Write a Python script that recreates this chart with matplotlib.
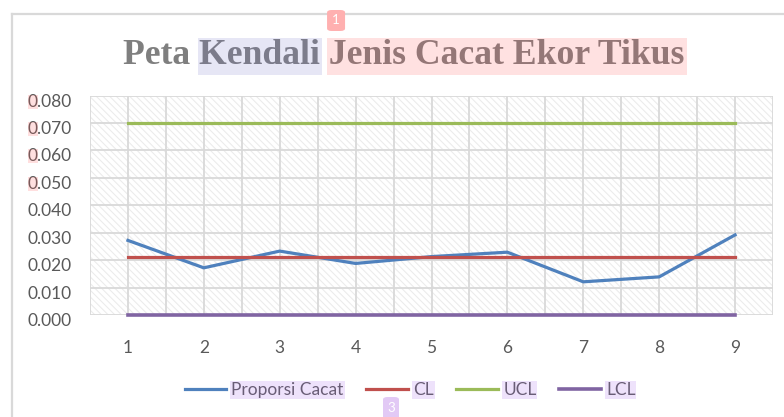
import matplotlib
matplotlib.use('Agg')
import matplotlib.pyplot as plt
from matplotlib.patches import Rectangle, FancyBboxPatch
from matplotlib.lines import Line2D
import matplotlib.transforms as mtrans

# ---------------- data ----------------
samples = [1, 2, 3, 4, 5, 6, 7, 8, 9]
proporsi_cacat = [0.0272, 0.0172, 0.0233, 0.0188, 0.0213, 0.0229, 0.0121, 0.0139, 0.0292]
cl_value = 0.0210
ucl_value = 0.0700
lcl_value = 0.0000
y_ticks = [0.000, 0.010, 0.020, 0.030, 0.040, 0.050, 0.060, 0.070, 0.080]
title_text = 'Peta Kendali Jenis Cacat Ekor Tikus'
legend_labels = ['Proporsi Cacat', 'CL', 'UCL', 'LCL']

# ---------------- style ----------------
W, H = 784, 417
C_BLUE = '#4F81BD'
C_RED = '#C0504D'
C_GREEN = '#9BBB59'
C_PURPLE = '#8064A2'
TXT = '#595959'
GRID = '#d9d9d9'
SANS = ['Lato', 'DejaVu Sans']
FS = 12.5

plt.rcParams['hatch.color'] = '#ececec'
plt.rcParams['hatch.linewidth'] = 0.8

fig = plt.figure(figsize=(W / 100, H / 100), dpi=100)
fig.patch.set_facecolor('white')


def px_rect(x0, y0, x1, y1):
    return [x0 / W, 1 - y1 / H, (x1 - x0) / W, (y1 - y0) / H]


ax = fig.add_axes(px_rect(90, 95.6, 773, 315))
ax.set_facecolor('none')

# hatched plot-area background
bg = Rectangle((0, 0), 1, 1, transform=ax.transAxes, facecolor='white',
               hatch='\\\\\\\\\\', edgecolor='#ececec', linewidth=0, zorder=0)
ax.add_patch(bg)

ax.set_xlim(0.5, 9.5)
ax.set_ylim(0, 0.08)

# grid lines (horizontal every tick, vertical every half category)
for yv in y_ticks:
    ax.axhline(yv, color=GRID, lw=1.3, zorder=1)
xg = 0.5
while xg <= 9.5001:
    ax.axvline(xg, color=GRID, lw=1.3, zorder=1)
    xg += 0.5

n = len(samples)
ax.plot(samples, proporsi_cacat, color=C_BLUE, lw=2.3, zorder=3,
        solid_joinstyle='round', label=legend_labels[0])
ax.plot(samples, [cl_value] * n, color=C_RED, lw=2.3, zorder=4, label=legend_labels[1])
ax.plot(samples, [ucl_value] * n, color=C_GREEN, lw=2.3, zorder=5, label=legend_labels[2])
ax.plot(samples, [lcl_value] * n, color=C_PURPLE, lw=2.6, zorder=6, clip_on=False,
        label=legend_labels[3])

for s in ax.spines.values():
    s.set_visible(False)

ax.set_xticks(samples)
ax.set_xticklabels([str(s) for s in samples])
ax.set_yticks(y_ticks)
ax.set_yticklabels(['{:.3f}'.format(v) for v in y_ticks])
ax.tick_params(axis='both', length=0, colors=TXT, labelsize=FS)
ax.tick_params(axis='y', pad=13)
ax.tick_params(axis='x', pad=18)
for lab in ax.get_yticklabels() + ax.get_xticklabels():
    lab.set_family(SANS)
for lab in ax.get_yticklabels():
    lab.set_transform(lab.get_transform() +
                      mtrans.ScaledTranslation(0, -4.5 / 100, fig.dpi_scale_trans))

# title
title = fig.text(404 / W, 1 - 56 / H, title_text, ha='center', va='center',
                 family=['Liberation Serif', 'DejaVu Serif'], fontweight='bold',
                 fontsize=25.7, color='#7f7f7f', zorder=5)

# legend
handles, labels = ax.get_legend_handles_labels()
leg = fig.legend(handles, labels, loc='center', bbox_to_anchor=(410 / W, 1 - 390 / H),
                 ncol=4, frameon=False, handlelength=2.4, handletextpad=0.3,
                 columnspacing=1.3, prop={'family': SANS, 'size': FS})
for t in leg.get_texts():
    t.set_color(TXT)

# chart border (top & left visible)
fig.add_artist(Line2D([12 / W, 1.0], [1 - 14 / H, 1 - 14 / H], color=GRID, lw=1.6))
fig.add_artist(Line2D([12 / W, 12 / W], [1 - 14 / H, 0.0], color=GRID, lw=1.6))

# ---------------- highlight overlays ----------------
fig.canvas.draw()
renderer = fig.canvas.get_renderer()


def text_width(s, ref):
    tmp = fig.text(0, 0, s, fontproperties=ref.get_fontproperties())
    w = tmp.get_window_extent(renderer).width
    tmp.remove()
    return w


def overlay(x0, y0, x1, y1, color, alpha, z=7):
    fig.add_artist(Rectangle((x0 / W, y0 / H), (x1 - x0) / W, (y1 - y0) / H,
                             transform=fig.transFigure, facecolor=color, alpha=alpha,
                             edgecolor='none', zorder=z))


tb = title.get_window_extent(renderer)
w_peta = text_width('Peta ', title)
w_kend = text_width('Peta Kendali', title)
w_kend_sp = text_width('Peta Kendali ', title)
ty0, ty1 = tb.y0 - 2, tb.y1 + 2
overlay(tb.x0 + w_peta - 1, ty0, tb.x0 + w_kend + 2, ty1, '#6e6ec8', 0.17)
overlay(tb.x0 + w_kend_sp - 2, ty0, tb.x1 + 2, ty1, '#ff5050', 0.17)

# badge "1"
bx0 = tb.x0 + w_kend_sp - 2
fig.add_artist(FancyBboxPatch((bx0 / W, 1 - 31 / H), 18 / W, 21 / H,
                              boxstyle='round,pad=0,rounding_size=0.006',
                              transform=fig.transFigure, facecolor='#ffb0b0',
                              edgecolor='none', zorder=8))
fig.text((bx0 + 9) / W, 1 - 20.5 / H, '1', ha='center', va='center', color='white',
         fontsize=9.5, family=SANS, zorder=9)

# legend labels highlight
for t in leg.get_texts():
    bb = t.get_window_extent(renderer)
    overlay(bb.x0 - 1, bb.y0 - 1, bb.x1 + 1, bb.y1 + 1, '#aa6eeb', 0.2)

# badge "3"
fig.add_artist(FancyBboxPatch((383 / W, -0.01), 16 / W, (20 / H) + 0.01,
                              boxstyle='round,pad=0,rounding_size=0.006',
                              transform=fig.transFigure, facecolor='#e2c9f5',
                              edgecolor='none', zorder=8))
fig.text(391 / W, 1 - 408 / H, '3', ha='center', va='center', color='white',
         fontsize=9.5, family=SANS, zorder=9)

# first-digit highlight on upper y tick labels
for lab in ax.get_yticklabels():
    if lab.get_text() in ('0.080', '0.070', '0.060', '0.050'):
        bb = lab.get_window_extent(renderer)
        wz = text_width('0', lab)
        overlay(bb.x0, bb.y0 + 1, bb.x0 + wz, bb.y1 - 1, '#ff6060', 0.2)

fig.savefig('out.png', dpi=100)
